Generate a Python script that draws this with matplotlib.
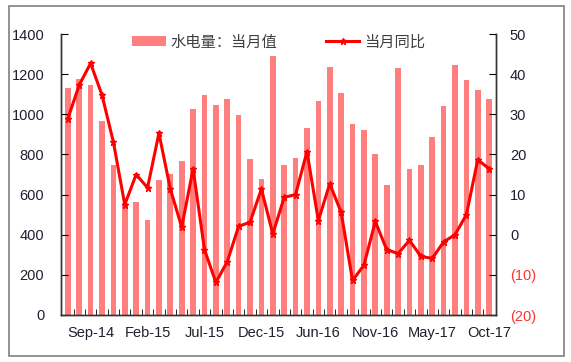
import matplotlib
matplotlib.use("Agg")
import matplotlib.pyplot as plt
from matplotlib.patches import Rectangle
from matplotlib.ticker import FixedLocator

plt.rcParams['font.family'] = ['Liberation Sans', 'Noto Sans CJK SC']

# Monthly data, Jul-14 .. Oct-17 (Jan-16 and Jan-17 not reported)
months = ["Jul-14", "Aug-14", "Sep-14", "Oct-14", "Nov-14", "Dec-14",
          "Jan-15", "Feb-15", "Mar-15", "Apr-15", "May-15", "Jun-15",
          "Jul-15", "Aug-15", "Sep-15", "Oct-15", "Nov-15", "Dec-15",
          "Feb-16", "Mar-16", "Apr-16", "May-16", "Jun-16", "Jul-16",
          "Aug-16", "Sep-16", "Oct-16", "Nov-16", "Dec-16",
          "Feb-17", "Mar-17", "Apr-17", "May-17", "Jun-17", "Jul-17",
          "Aug-17", "Sep-17", "Oct-17"]

hydro = [1133, 1176, 1145, 967, 746, 560, 564, 473, 675, 702, 768, 1027,
         1096, 1045, 1075, 995, 776, 677, 1290, 748, 780, 932, 1065, 1236,
         1106, 952, 924, 803, 650, 1229, 725, 745, 886, 1043, 1246, 1170,
         1121, 1078]

yoy = [28.9, 37.3, 42.7, 34.8, 23.1, 7.5, 15.0, 11.7, 25.3, 11.4, 1.9, 16.4,
       -3.7, -11.9, -6.7, 2.1, 3.1, 11.4, 0.2, 9.3, 10.0, 20.7, 3.5, 12.7,
       5.6, -11.4, -7.6, 3.3, -3.7, -4.7, -1.4, -5.4, -5.9, -1.8, 0.0, 5.0,
       18.7, 16.4]

x = list(range(len(months)))
txt = "#1f1f2f"

fig = plt.figure(figsize=(5.71, 3.62), dpi=100)
ax1 = fig.add_axes([61 / 571, 1 - 315 / 362, 435 / 571, 281 / 362])
ax2 = ax1.twinx()

# outer gray frame
fig.patches.append(Rectangle((9 / 571, 1 - 356 / 362), 555 / 571, 350 / 362,
                             transform=fig.transFigure, fill=False,
                             edgecolor="#7f7f7f", linewidth=1.2))

bars = ax1.bar(x, hydro, width=0.5, color="#ff7f7f", label="水电量：当月值", zorder=1)
line, = ax2.plot(x, yoy, color="#ff0000", linewidth=2.2, marker="*",
                 markersize=5, label="当月同比", zorder=3)

ax1.set_xlim(-0.6, len(x) - 0.4)
ax1.set_ylim(0, 1400)
ax1.set_yticks(range(0, 1401, 200))
ax2.set_ylim(-20, 50)
ax2.set_yticks(range(-20, 51, 10))
ax2.set_yticklabels([f"({-v})" if v < 0 else str(v) for v in range(-20, 51, 10)])
for lab, v in zip(ax2.get_yticklabels(), range(-20, 51, 10)):
    lab.set_color("#ff3333" if v < 0 else txt)

# x labels every 5 months, ticks between the bars
ax1.set_xticks(x[2::5])
ax1.set_xticklabels(months[2::5])
ax1.xaxis.set_minor_locator(FixedLocator([i + 0.5 for i in x[:-1]]))
ax1.tick_params(axis="x", which="major", length=0, pad=8, labelsize=10.5, labelcolor=txt)
ax1.tick_params(axis="x", which="minor", direction="in", length=4)
ax1.tick_params(axis="y", direction="in", length=5, pad=12, labelsize=10.5, labelcolor=txt)
ax2.tick_params(axis="y", direction="in", length=5, pad=10, labelsize=10.5)

for ax in (ax1, ax2):
    ax.spines["top"].set_visible(False)
    for s in ("left", "right", "bottom"):
        ax.spines[s].set_color("#333333")
        ax.spines[s].set_linewidth(1)

leg = ax1.legend([bars, line], ["水电量：当月值", "当月同比"], loc="upper center",
                 bbox_to_anchor=(0.5, 1.045), ncol=2, frameon=False, fontsize=11,
                 handlelength=2.2, columnspacing=3.2, handletextpad=0.3)
for t in leg.get_texts():
    t.set_color("#404040")

plt.savefig("out.png", dpi=100)
